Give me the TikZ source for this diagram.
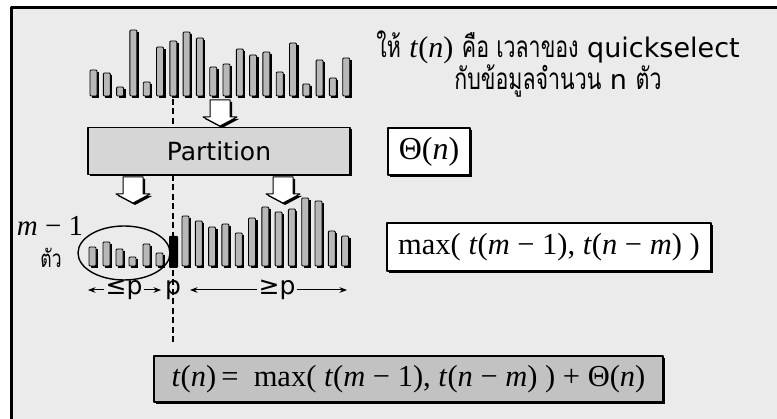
\documentclass[tikz,border=0pt]{standalone}
\usepackage{fontspec}
\setmainfont{DejaVu Sans}
\newfontfamily\thaifont[Script=Thai,Scale=1.1,FakeStretch=0.72]{Loma}
\newfontfamily\tnr{Liberation Serif}
\usetikzlibrary{arrows.meta,positioning,shadows}
\definecolor{nen}{gray}{0.92}
\definecolor{cot}{gray}{0.72}
\definecolor{hop}{gray}{0.84}
\definecolor{hopduoi}{gray}{0.76}
\newcommand{\cochu}[1]{\fontsize{#1}{1.2\dimexpr#1pt\relax}\selectfont}
\begin{document}
\begin{tikzpicture}[x=1pt,y=-1pt,>=Stealth,line join=round,
    cotxam/.style={draw=black,fill=cot,line width=0.9pt,rounded corners=1pt},
    muiten/.style={draw=black,fill=white,line width=1pt},
    hopchu/.style={draw=black,line width=1.2pt,inner sep=0pt,
      drop shadow={shadow xshift=1.6pt,shadow yshift=-1.6pt,fill=black,opacity=1}}]
    \useasboundingbox (0,0) rectangle (777,419);
    % nen va khung
    \fill[white] (0,0) rectangle (777,419);
    \fill[nen] (10,6) rectangle (777,419);
    \draw[line width=3pt] (11.5,419)--(11.5,7.5)--(777,7.5);
    % day ban dau
    \foreach \i/\h in {0/70,1/73,2/87,3/30,4/82,5/47,6/41,7/32,8/38,9/67,10/64,11/49,12/55,13/52,14/72,15/43,16/84,17/60,18/78,19/58}{
        \fill ({90+13.3*\i+2},\h+2) rectangle ++(7,96-\h);
        \draw[cotxam] ({90+13.3*\i},\h) rectangle ++(7,96-\h);
    }
    % nhom nho hon p
    \foreach \x/\h in {89/247,103/242,116/249,129/257,143/244,156/253}{
        \fill (\x+2,\h+2) rectangle ++(7,266-\h);
        \draw[cotxam] (\x,\h) rectangle ++(7,266-\h);
    }
    % nhom lon hon p
    \foreach \i/\h in {0/216,1/221,2/227,3/224,4/233,5/218,6/207,7/212,8/209,9/198,10/201,11/231,12/236}{
        \fill ({182+13.3*\i+2},\h+2) rectangle ++(7,266-\h);
        \draw[cotxam] ({182+13.3*\i},\h) rectangle ++(7,266-\h);
    }
    % duong chia tai p
    \coordinate (P1) at (173,99);
    \coordinate (P2) at (173,347);
    \foreach \y in {99,108.5,...,342} \fill (171.6,\y) rectangle ++(2.8,6);
    \fill[rounded corners=1pt] (169,236) rectangle (178,268);
    % mui ten khoi
    \foreach \cx/\y in {220/100,133/177,283/177}{
        \fill[shift={(2,2)}] (\cx-10,\y)--(\cx+10,\y)--(\cx+10,\y+17)--(\cx+17,\y+17)--(\cx,\y+26)--(\cx-17,\y+17)--(\cx-10,\y+17)--cycle;
        \draw[muiten] (\cx-10,\y)--(\cx+10,\y)--(\cx+10,\y+17)--(\cx+17,\y+17)--(\cx,\y+26)--(\cx-17,\y+17)--(\cx-10,\y+17)--cycle;
    }
    \node[hopchu,fill=hop,minimum width=262pt,minimum height=47pt,font=\cochu{25}] (part) at (219,151) {Partition};
    \draw[line width=1.4pt] (124,253) ellipse (46 and 27);
    % nhan
    \node[font=\cochu{29}] (m1) at (50,226) {\tnr\textit{m} − 1};
    \node[font=\cochu{22}] (tua) at (51,258) {\thaifont ตัว};
    \node[font=\cochu{25},inner sep=1pt] (le) at (124,290) {≤p};
    \node[font=\cochu{25},inner sep=1pt] (pp) at (173,290) {p};
    \node[font=\cochu{25},inner sep=1pt] (ge) at (277,290) {≥p};
    \coordinate (leL) at (88,290);
    \coordinate (leR) at (161,290);
    \coordinate (geL) at (190,290);
    \coordinate (geR) at (347,290);
    \foreach \a/\b in {le/leL,le/leR,ge/geL,ge/geR} \draw[->,line width=1pt] (\a)--(\b);
    \node[align=center,font=\cochu{27}] (tieude) at (558,64)
        {{\thaifont ให้} {\tnr\cochu{30}\textit{t}(\textit{n})} {\thaifont คือ เวลาของ} quickselect\\[-1pt]
         {\thaifont กับข้อมูลจำนวน} n {\thaifont ตัว}};
    \node[hopchu,fill=white,minimum width=82pt,minimum height=47pt,font=\cochu{32}] (theta) at (429,151.5) {\tnr Θ(\textit{n})};
    \node[hopchu,fill=white,minimum width=324pt,minimum height=48pt,font=\cochu{30.5}] (maxh) at (549,247) {\tnr max( \textit{t}(\textit{m} − 1), \textit{t}(\textit{n} − \textit{m}) )};
    \node[hopchu,fill=hopduoi,minimum width=509pt,minimum height=46pt,font=\cochu{30.5}] (ketqua) at (408.5,379) {\tnr \textit{t}(\textit{n})\,=\ \ max( \textit{t}(\textit{m} − 1), \textit{t}(\textit{n} − \textit{m}) ) + Θ(\textit{n})};
\end{tikzpicture}
\end{document}
